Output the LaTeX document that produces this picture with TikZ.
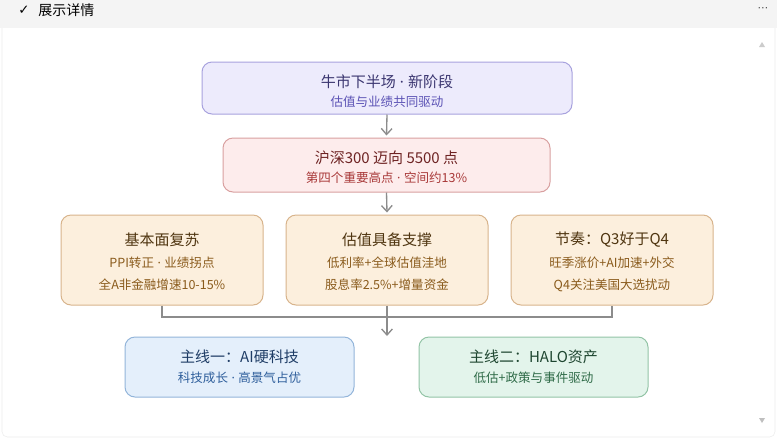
\documentclass[tikz,border=0pt]{standalone}
\usepackage{fontspec}
\setmainfont{Noto Sans CJK SC}
\newfontfamily\symfont{DejaVu Sans}
\newfontfamily\latinfont{Noto Sans}
\newcommand{\mdot}{{\latinfont\hspace{0.28em}·\hspace{0.28em}}}
\usetikzlibrary{arrows.meta}

\definecolor{barbg}{HTML}{F4F4F4}
\definecolor{panelline}{HTML}{E4E4E4}
\definecolor{linkgray}{HTML}{8C8C8C}
\definecolor{stageF}{HTML}{EDEBFC}
\definecolor{stageD}{HTML}{A8A2DE}
\definecolor{stageT}{HTML}{3B3670}
\definecolor{stageS}{HTML}{5B52B5}
\definecolor{goalF}{HTML}{FDECEC}
\definecolor{goalD}{HTML}{D9A0A0}
\definecolor{goalT}{HTML}{6E2323}
\definecolor{goalS}{HTML}{A83838}
\definecolor{pillarF}{HTML}{FCEFDD}
\definecolor{pillarD}{HTML}{D8B48C}
\definecolor{pillarT}{HTML}{4F3510}
\definecolor{pillarS}{HTML}{8A5B1C}
\definecolor{techF}{HTML}{E4EFFB}
\definecolor{techD}{HTML}{93B5DA}
\definecolor{techT}{HTML}{1F3D66}
\definecolor{techS}{HTML}{2F5F9C}
\definecolor{haloF}{HTML}{E3F4EB}
\definecolor{haloD}{HTML}{93C4A6}
\definecolor{haloT}{HTML}{1E4630}
\definecolor{haloS}{HTML}{2F6B48}

\begin{document}
\begin{tikzpicture}[x=0.75pt,y=-0.75pt,
  card/.style={rectangle,rounded corners=7.5pt,line width=0.75pt,inner sep=0pt},
  ttl/.style={inner sep=0pt,font=\fontsize{11.25}{13}\selectfont},
  sub/.style={inner sep=0pt,font=\fontsize{9.4}{11}\selectfont},
  link/.style={draw=linkgray,line width=1pt},
  arr/.style={link,-{Straight Barb[length=4.5pt,width=8pt]}}]
\useasboundingbox (0,0) rectangle (777,444);
% frame
\fill[white] (0,0) rectangle (777,444);
\draw[panelline!70,fill=white,rounded corners=4pt] (2,20) rectangle (775,437);
\fill[barbg] (0,0) rectangle (777,28);
\node[inner sep=0pt,font=\symfont\fontsize{10}{11}\selectfont] (tick) at (24,10) {✓};
\node[inner sep=0pt,anchor=west,font=\fontsize{10.5}{12}\selectfont] (title) at (38,10) {展示详情};
\node[inner sep=0pt,font=\symfont\fontsize{8}{9}\selectfont,text=black!70] (more) at (763,10) {⋯};
\fill[black!20] (759,47) -- (765,47) -- (762,42) -- cycle;
\fill[black!25] (759,418) -- (765,418) -- (762,423) -- cycle;

% level 1
\node[card,fill=stageF,draw=stageD,minimum width=277.5pt,minimum height=39pt] (stage) at (387,88) {};
\node[ttl,text=stageT] (stageA) at (387,82) {牛市下半场\mdot 新阶段};
\node[sub,text=stageS] (stageB) at (387,102) {估值与业绩共同驱动};

% level 2
\node[card,fill=goalF,draw=goalD,minimum width=245.25pt,minimum height=40.5pt] (goal) at (386.5,165) {};
\node[ttl,text=goalT] (goalA) at (386.5,158) {沪深300 迈向 5500 点};
\node[sub,text=goalS] (goalB) at (386.5,178) {第四个重要高点\mdot 空间约13\%};

% level 3
\node[card,fill=pillarF,draw=pillarD,minimum width=151.5pt,minimum height=67.5pt] (basis) at (162,260) {};
\node[ttl,text=pillarT] (basisA) at (162,240) {基本面复苏};
\node[sub,text=pillarS] (basisB) at (162,263) {PPI转正\mdot 业绩拐点};
\node[sub,text=pillarS] (basisC) at (162,285) {全A非金融增速10-15\%};

\node[card,fill=pillarF,draw=pillarD,minimum width=151.5pt,minimum height=67.5pt] (value) at (387,260) {};
\node[ttl,text=pillarT] (valueA) at (387,240) {估值具备支撑};
\node[sub,text=pillarS] (valueB) at (387,263) {低利率+全球估值洼地};
\node[sub,text=pillarS] (valueC) at (387,285) {股息率2.5\%+增量资金};

\node[card,fill=pillarF,draw=pillarD,minimum width=151.5pt,minimum height=67.5pt] (rhythm) at (612,260) {};
\node[ttl,text=pillarT] (rhythmA) at (612,240) {节奏：Q3好于Q4};
\node[sub,text=pillarS] (rhythmB) at (612,263) {旺季涨价+AI加速+外交};
\node[sub,text=pillarS] (rhythmC) at (612,285) {Q4关注美国大选扰动};

% level 4
\node[card,fill=techF,draw=techD,minimum width=171.75pt,minimum height=45pt] (tech) at (239.5,367) {};
\node[ttl,text=techT] (techA) at (239.5,357) {主线一：AI硬科技};
\node[sub,text=techS] (techB) at (239.5,378) {科技成长\mdot 高景气占优};

\node[card,fill=haloF,draw=haloD,minimum width=171.75pt,minimum height=45pt] (halo) at (533.5,367) {};
\node[ttl,text=haloT] (haloA) at (533.5,357) {主线二：HALO资产};
\node[sub,text=haloS] (haloB) at (533.5,378) {低估+政策与事件驱动};

% links
\coordinate (join) at (387,317);
\coordinate (joinEnd) at (387,336);
\draw[arr] (stage.south) -- ([yshift=1.5pt]goal.north);
\draw[arr] (goal.south) -- ([yshift=1.5pt]value.north);
\draw[link] (basis.south) -- (basis.south |- join) -- (rhythm.south |- join) -- (rhythm.south);
\draw[link] (value.south) -- (join);
\draw[arr] (join) -- (joinEnd);
\end{tikzpicture}
\end{document}
